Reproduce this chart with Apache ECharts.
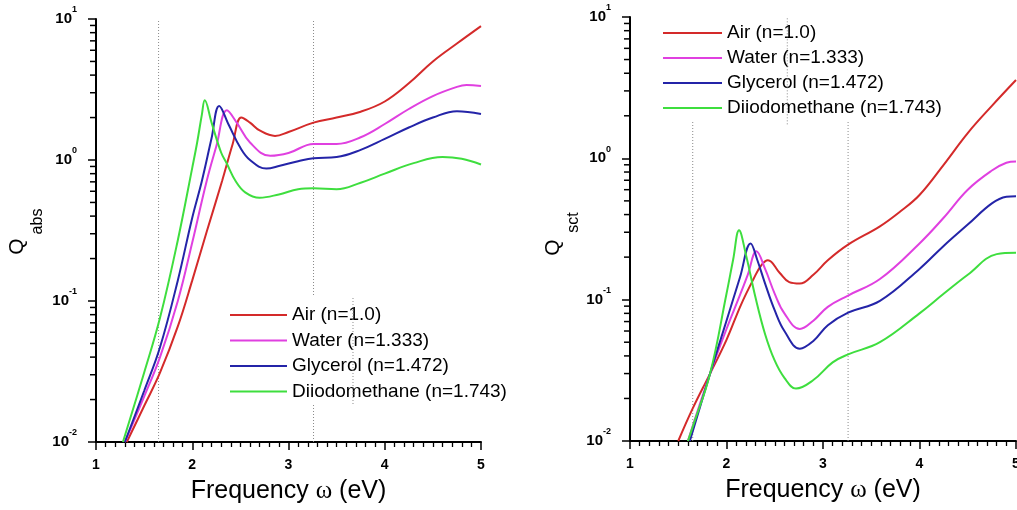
<!DOCTYPE html>
<html><head><meta charset="utf-8">
<script src="https://cdn.jsdelivr.net/npm/echarts@6/dist/echarts.min.js"></script>
<style>html,body{margin:0;padding:0;background:#fff}#c{width:1017px;height:510px}</style>
</head><body><div id="c"></div>
<script>
// ---- data ----
const seriesNames = ['Air (n=1.0)', 'Water (n=1.333)', 'Glycerol (n=1.472)', 'Diiodomethane (n=1.743)'];
const seriesColors = ['#d42a2a', '#e040e0', '#2424a8', '#3ede3e'];

// Q_abs (left panel): [frequency eV, Q]
const absAir = [[1.32,0.010],[1.5,0.018],[1.665,0.031],[1.85,0.066],[2.0,0.14],[2.15,0.31],[2.31,0.71],[2.42,1.3],[2.51,2.0],[2.6,1.84],[2.7,1.62],[2.86,1.48],[3.0,1.58],[3.26,1.84],[3.5,2.0],[3.75,2.2],[4.0,2.6],[4.25,3.5],[4.5,5.0],[4.75,6.7],[5.0,8.9]];
const absWater = [[1.30,0.010],[1.5,0.021],[1.665,0.040],[1.85,0.10],[2.0,0.26],[2.15,0.71],[2.25,1.25],[2.36,2.25],[2.46,1.85],[2.6,1.33],[2.81,1.07],[3.0,1.12],[3.26,1.30],[3.5,1.30],[3.75,1.45],[4.0,1.8],[4.25,2.3],[4.5,2.84],[4.75,3.3],[4.85,3.4],[5.0,3.35]];
const absGlycerol = [[1.30,0.010],[1.5,0.023],[1.665,0.047],[1.85,0.14],[2.0,0.39],[2.1,0.71],[2.2,1.42],[2.28,2.42],[2.38,1.77],[2.5,1.22],[2.6,1.0],[2.77,0.87],[2.91,0.91],[3.1,0.98],[3.26,1.03],[3.5,1.05],[3.75,1.18],[4.0,1.41],[4.25,1.7],[4.5,2.0],[4.75,2.22],[5.0,2.12]];
const absDiiodo = [[1.28,0.010],[1.5,0.031],[1.665,0.076],[1.85,0.27],[2.0,0.88],[2.05,1.32],[2.1,2.1],[2.13,2.65],[2.2,1.85],[2.3,1.13],[2.36,0.94],[2.45,0.71],[2.55,0.59],[2.7,0.54],[2.9,0.57],[3.1,0.62],[3.26,0.63],[3.5,0.62],[3.75,0.69],[4.0,0.80],[4.3,0.95],[4.6,1.05],[4.8,1.02],[5.0,0.93]];

// Q_sct (right panel)
const sctAir = [[1.50,0.010],[1.65,0.017],[1.83,0.030],[2.0,0.052],[2.15,0.092],[2.28,0.14],[2.36,0.175],[2.43,0.19],[2.55,0.155],[2.65,0.133],[2.76,0.13],[2.9,0.15],[3.05,0.19],[3.26,0.245],[3.59,0.33],[3.8,0.42],[4.0,0.55],[4.25,0.9],[4.5,1.51],[4.75,2.35],[5.0,3.58]];
const sctWater = [[1.60,0.010],[1.83,0.030],[2.0,0.062],[2.14,0.108],[2.22,0.15],[2.31,0.22],[2.4,0.165],[2.5,0.11],[2.6,0.08],[2.76,0.062],[2.9,0.071],[3.05,0.089],[3.26,0.107],[3.59,0.14],[4.0,0.25],[4.25,0.38],[4.5,0.60],[4.75,0.82],[4.9,0.93],[5.0,0.95]];
const sctGlycerol = [[1.62,0.010],[1.83,0.030],[2.0,0.071],[2.14,0.144],[2.25,0.25],[2.32,0.19],[2.4,0.13],[2.5,0.084],[2.6,0.060],[2.76,0.045],[2.9,0.051],[3.05,0.066],[3.26,0.081],[3.59,0.098],[4.0,0.165],[4.25,0.24],[4.5,0.34],[4.75,0.48],[4.9,0.535],[5.0,0.54]];
const sctDiiodo = [[1.60,0.010],[1.65,0.0126],[1.83,0.030],[2.0,0.11],[2.07,0.194],[2.13,0.31],[2.2,0.21],[2.3,0.104],[2.4,0.057],[2.5,0.037],[2.6,0.028],[2.72,0.0235],[2.9,0.027],[3.1,0.036],[3.26,0.041],[3.59,0.05],[4.0,0.08],[4.25,0.11],[4.5,0.15],[4.8,0.21],[5.0,0.215]];

// axes
const xMin = 1, xMax = 5, xInterval = 1;
const yMin = 0.01, yMax = 10;
const yMinorTicks = [0.02, 0.03, 0.04, 0.05, 0.06, 0.07, 0.08, 0.09,
                     0.2, 0.3, 0.4, 0.5, 0.6, 0.7, 0.8, 0.9,
                     2, 3, 4, 5, 6, 7, 8, 9];

// dotted guide lines (frequency, from Q, to Q)
const guidesLeft = [[1.65, 0.01, 10], [3.26, 0.01, 10]];
const guidesLeftOver = [[3.67, 0.0186, 0.108]];
const guidesRight = [[1.65, 0.01, 10], [3.26, 0.01, 10]];
const guidesRightOver = [[2.63, 1.74, 10]];

const xTitle = 'Frequency {w|ω} (eV)';
// ---------------

const FONT = 'Liberation Sans';
const grids = [
  { left: 96, top: 19, width: 385, height: 423, outerBoundsMode: 'none', containLabel: false },
  { left: 630, top: 17, width: 386, height: 424, outerBoundsMode: 'none', containLabel: false },
  // narrow strips just left of each y axis, used for the minor log ticks
  { left: 90, top: 19, width: 6, height: 423, outerBoundsMode: 'none', containLabel: false },
  { left: 624, top: 17, width: 6, height: 424, outerBoundsMode: 'none', containLabel: false }
];

function xAxisCfg(gi) {
  return {
    type: 'value', gridIndex: gi, min: xMin, max: xMax, interval: xInterval,
    axisLine: { show: true, onZero: false, lineStyle: { color: '#000', width: 2 } },
    axisTick: { show: true, length: 8, lineStyle: { color: '#000', width: 1.5 } },
    minorTick: { show: true, splitNumber: 10, length: 5, lineStyle: { color: '#000', width: 1.3 } },
    splitLine: { show: false },
    axisLabel: { color: '#000', fontSize: 14, fontWeight: 'bold', fontFamily: FONT, margin: 16 },
    name: xTitle, nameLocation: 'middle', nameGap: 37,
    nameTextStyle: { color: '#000', fontSize: 25, fontFamily: FONT,
      rich: { w: { fontSize: 25, fontFamily: 'Liberation Serif', color: '#000' } } }
  };
}
function yAxisCfg(gi) {
  return {
    type: 'log', logBase: 10, gridIndex: gi, min: yMin, max: yMax, position: 'left',
    axisLine: { show: true, onZero: false, lineStyle: { color: '#000', width: 2 } },
    axisTick: { show: true, length: 8, lineStyle: { color: '#000', width: 1.5 } },
    minorTick: { show: false }, splitLine: { show: false },
    axisLabel: {
      margin: 19, padding: [0, 0, 6, 0],
      formatter: v => '{b|10}{s|' + Math.round(Math.log10(v)) + '}',
      rich: {
        b: { fontSize: 15, fontWeight: 'bold', fontFamily: FONT, color: '#000', lineHeight: 21, verticalAlign: 'bottom' },
        s: { fontSize: 9, fontWeight: 'bold', fontFamily: FONT, color: '#000', lineHeight: 9, verticalAlign: 'top' }
      }
    }
  };
}
const stripX = gi => ({ type: 'value', gridIndex: gi, min: 0, max: 1, show: false });
const stripY = gi => ({ type: 'log', logBase: 10, gridIndex: gi, min: yMin, max: yMax, show: false });

const panels = [
  [absAir, absWater, absGlycerol, absDiiodo],
  [sctAir, sctWater, sctGlycerol, sctDiiodo]
];
const series = [];
panels.forEach((sets, gi) => {
  sets.forEach((d, i) => {
    series.push({
      type: 'line', name: seriesNames[i], xAxisIndex: gi, yAxisIndex: gi,
      data: d, symbol: 'none', smooth: 0.4, z: 3,
      lineStyle: { color: seriesColors[i], width: 2 }, itemStyle: { color: seriesColors[i] }
    });
  });
});
function guideSeries(list, gi, z) {
  list.forEach(g => {
    series.push({
      type: 'line', xAxisIndex: gi, yAxisIndex: gi, z: z, silent: true, symbol: 'none',
      data: [[g[0], g[1]], [g[0], g[2]]],
      lineStyle: { color: '#8a8a8a', width: 1, type: [1, 2] }
    });
  });
}
guideSeries(guidesLeft, 0, 1);
guideSeries(guidesRight, 1, 1);
guideSeries(guidesLeftOver, 0, 6);
guideSeries(guidesRightOver, 1, 6);

// minor log ticks (2..9 per decade) in the narrow strips, positioned by the log scale
[2, 3].forEach(gi => {
  yMinorTicks.forEach(v => {
    series.push({
      type: 'line', xAxisIndex: gi, yAxisIndex: gi, z: 10, silent: true, symbol: 'none', clip: false,
      data: [[0, v], [1, v]],
      lineStyle: { color: '#000', width: 1.5, opacity: 1 }
    });
  });
});

function legendCfg(left, top, w, gap) {
  return {
    left: left, top: top, orient: 'vertical', icon: 'rect',
    itemWidth: w, itemHeight: 2, itemGap: gap, data: seriesNames, selectedMode: false,
    backgroundColor: '#fff', padding: [10, 6, 4, 6],
    textStyle: { fontSize: 19, fontFamily: FONT, color: '#000', lineHeight: 19 }
  };
}

const option = {
  animation: false,
  backgroundColor: '#fff',
  grid: grids,
  xAxis: [xAxisCfg(0), xAxisCfg(1), stripX(2), stripX(3)],
  yAxis: [yAxisCfg(0), yAxisCfg(1), stripY(2), stripY(3)],
  legend: [legendCfg(224, 295.5, 57, 6.5), legendCfg(657, 13.5, 59, 6)],
  series: series,
  graphic: [
    { type: 'text', x: 17.6, y: 246.5, rotation: Math.PI / 2, style: { text: 'Q', fontSize: 21, fontFamily: FONT, fill: '#000', align: 'center', verticalAlign: 'middle' } },
    { type: 'text', x: 37.4, y: 221.5, rotation: Math.PI / 2, style: { text: 'abs', fontSize: 16, fontFamily: FONT, fill: '#000', align: 'center', verticalAlign: 'middle' } },
    { type: 'text', x: 553, y: 247.5, rotation: Math.PI / 2, style: { text: 'Q', fontSize: 21, fontFamily: FONT, fill: '#000', align: 'center', verticalAlign: 'middle' } },
    { type: 'text', x: 573.4, y: 222.5, rotation: Math.PI / 2, style: { text: 'sct', fontSize: 16, fontFamily: FONT, fill: '#000', align: 'center', verticalAlign: 'middle' } }
  ]
};
const chart = echarts.init(document.getElementById('c'), null, { renderer: 'canvas' });
chart.setOption(option);
</script></body></html>
